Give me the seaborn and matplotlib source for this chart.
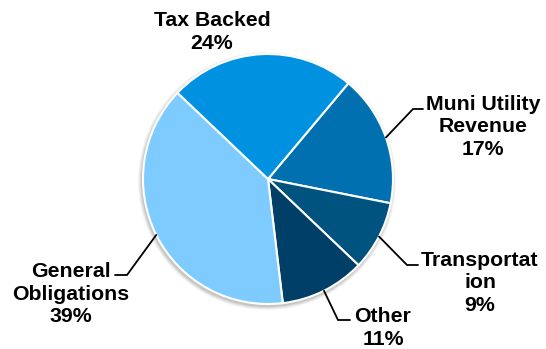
import matplotlib
matplotlib.use("Agg")
import matplotlib.pyplot as plt
from matplotlib.patches import Circle
import numpy as np
import seaborn as sns

# Portfolio sector breakdown
categories = ["Muni Utility\nRevenue", "Transportat\nion", "Other", "General\nObligations", "Tax Backed"]
shares = [17, 9, 11, 39, 24]
colors = ["#0070B0", "#00527F", "#003F67", "#7DCBFF", "#0092E1"]

sns.set_theme(style="white")
plt.rcParams["font.family"] = ["Liberation Sans", "DejaVu Sans"]

W, H = 546, 349
fig = plt.figure(figsize=(W / 100, H / 100), dpi=100)
ax = fig.add_axes([0, 0, 1, 1])

cx, cy, r = 268, H - 179, 125

# soft shadow under the pie
for k, a in enumerate([0.05, 0.07, 0.09, 0.12]):
    ax.add_patch(Circle((cx - 1, cy - 2), r + 4 - k, color="#404040", alpha=a, lw=0, zorder=0))

wedges, _ = ax.pie(shares, colors=colors, startangle=50, counterclock=False,
                   center=(cx, cy), radius=r,
                   wedgeprops=dict(edgecolor="white", linewidth=1.5))
for w in wedges:
    w.set_zorder(2)

# label text anchors and leader-line elbows (pixel layout, y from top)
label_pos = [(483, 127), (480, 283), (383, 328), (71, 294), (212, 32)]
elbows = [((413, 109), (423, 109)),
          ((407, 265), (418, 265)),
          ((338, 320), (350, 320)),
          ((127, 275), (115, 275)),
          None]

for w, cat, val, (tx, ty), el in zip(wedges, categories, shares, label_pos, elbows):
    ax.text(tx, H - ty, f"{cat}\n{val}%", ha="center", va="center",
            fontsize=15.3, fontweight="bold", color="black", linespacing=1.25, zorder=5)
    if el is not None:
        mid = np.deg2rad((w.theta1 + w.theta2) / 2)
        sx, sy = cx + w.r * np.cos(mid), cy + w.r * np.sin(mid)
        (ex, ey), (hx, hy) = el
        ax.plot([sx, ex, hx], [sy, H - ey, H - hy], color="black", lw=1.3,
                solid_joinstyle="miter", zorder=3)

ax.set_xlim(0, W)
ax.set_ylim(0, H)
ax.set_aspect("equal")
ax.axis("off")
fig.savefig("out.png", dpi=100, facecolor="white")
